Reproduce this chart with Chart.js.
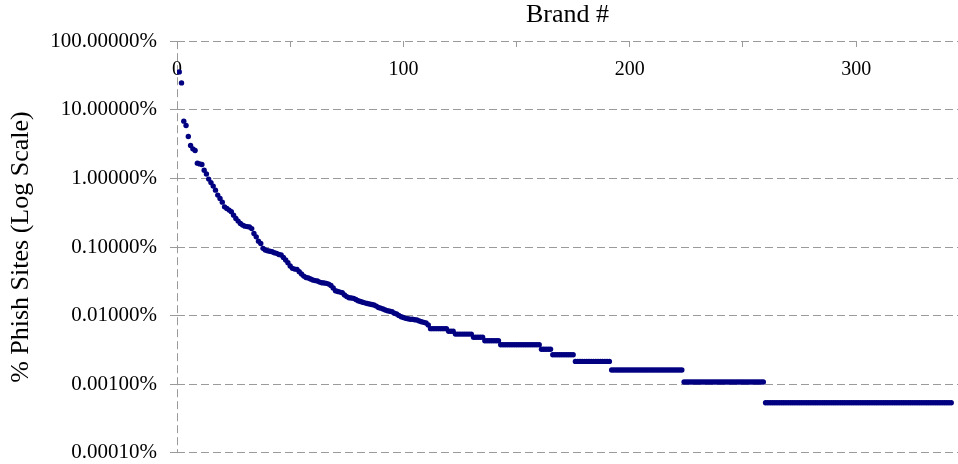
<!DOCTYPE html>
<html>
<head>
<meta charset="utf-8">
<script src="https://cdn.jsdelivr.net/npm/chart.js@4.4.1/dist/chart.umd.min.js"></script>
<style>
  body { margin: 0; background: #fff; }
  #wrap { width: 958px; height: 464px; }
</style>
</head>
<body>
<div id="wrap"><canvas id="myChart"></canvas></div>
<script>
// y ticks (percent) and labelled brand ticks
const yTicks = [0.0001, 0.001, 0.01, 0.1, 1, 10, 100];
const xLabelTicks = [0, 100, 200, 300];

// % of phish sites per brand, brands 1..111
const headPct = [
  35.7, 24.7, 6.84, 5.92, 4.09, 3.03, 2.70, 2.56, 1.67, 1.63,
  1.60, 1.32, 1.16, 0.978, 0.870, 0.774, 0.676, 0.572, 0.512, 0.452,
  0.386, 0.366, 0.346, 0.327, 0.292, 0.262, 0.239, 0.221, 0.209, 0.202,
  0.199, 0.196, 0.186, 0.158, 0.141, 0.122, 0.113, 0.0958, 0.0905, 0.0884,
  0.0869, 0.0855, 0.0826, 0.0810, 0.0778, 0.0765, 0.0708, 0.0647, 0.0591, 0.0529,
  0.0490, 0.0478, 0.0474, 0.0437, 0.0405, 0.0378, 0.0360, 0.0354, 0.0342, 0.0331,
  0.0325, 0.0320, 0.0309, 0.0302, 0.0299, 0.0296, 0.0289, 0.0275, 0.0253, 0.0231,
  0.0225, 0.0221, 0.0216, 0.0200, 0.0190, 0.0183, 0.0181, 0.0179, 0.0172, 0.0165,
  0.0161, 0.0157, 0.0154, 0.0151, 0.0148, 0.0146, 0.0143, 0.0138, 0.0132, 0.0129,
  0.0125, 0.0121, 0.0118, 0.0116, 0.0114, 0.0109, 0.0106, 0.0101, 0.00966, 0.00941,
  0.00916, 0.00901, 0.00889, 0.00886, 0.00874, 0.00865, 0.00837, 0.00818, 0.00801, 0.00782,
  0.00732
];

// brands 112..342, the step part (12 sites down to 1 site)
const tailPct = [
  0.00648, 0.00648, 0.00648, 0.00648, 0.00648, 0.00648, 0.00648, 0.00648,
  0.00594, 0.00594, 0.00594,
  0.0054, 0.0054, 0.0054, 0.0054, 0.0054, 0.0054, 0.0054, 0.0054,
  0.00486, 0.00486, 0.00486, 0.00486, 0.00486,
  0.00432, 0.00432, 0.00432, 0.00432, 0.00432, 0.00432, 0.00432,
  0.00378, 0.00378, 0.00378, 0.00378, 0.00378, 0.00378, 0.00378, 0.00378, 0.00378, 0.00378,
  0.00378, 0.00378, 0.00378, 0.00378, 0.00378, 0.00378, 0.00378, 0.00378,
  0.00324, 0.00324, 0.00324, 0.00324, 0.00324,
  0.0027, 0.0027, 0.0027, 0.0027, 0.0027, 0.0027, 0.0027, 0.0027, 0.0027, 0.0027,
  0.00216, 0.00216, 0.00216, 0.00216, 0.00216, 0.00216, 0.00216, 0.00216, 0.00216, 0.00216,
  0.00216, 0.00216, 0.00216, 0.00216, 0.00216, 0.00216,
  0.00162, 0.00162, 0.00162, 0.00162, 0.00162, 0.00162, 0.00162, 0.00162, 0.00162, 0.00162,
  0.00162, 0.00162, 0.00162, 0.00162, 0.00162, 0.00162, 0.00162, 0.00162, 0.00162, 0.00162,
  0.00162, 0.00162, 0.00162, 0.00162, 0.00162, 0.00162, 0.00162, 0.00162, 0.00162, 0.00162,
  0.00162, 0.00162,
  0.00108, 0.00108, 0.00108, 0.00108, 0.00108, 0.00108, 0.00108, 0.00108, 0.00108, 0.00108,
  0.00108, 0.00108, 0.00108, 0.00108, 0.00108, 0.00108, 0.00108, 0.00108, 0.00108, 0.00108,
  0.00108, 0.00108, 0.00108, 0.00108, 0.00108, 0.00108, 0.00108, 0.00108, 0.00108, 0.00108,
  0.00108, 0.00108, 0.00108, 0.00108, 0.00108, 0.00108,
  0.00054, 0.00054, 0.00054, 0.00054, 0.00054, 0.00054, 0.00054, 0.00054, 0.00054, 0.00054,
  0.00054, 0.00054, 0.00054, 0.00054, 0.00054, 0.00054, 0.00054, 0.00054, 0.00054, 0.00054,
  0.00054, 0.00054, 0.00054, 0.00054, 0.00054, 0.00054, 0.00054, 0.00054, 0.00054, 0.00054,
  0.00054, 0.00054, 0.00054, 0.00054, 0.00054, 0.00054, 0.00054, 0.00054, 0.00054, 0.00054,
  0.00054, 0.00054, 0.00054, 0.00054, 0.00054, 0.00054, 0.00054, 0.00054, 0.00054, 0.00054,
  0.00054, 0.00054, 0.00054, 0.00054, 0.00054, 0.00054, 0.00054, 0.00054, 0.00054, 0.00054,
  0.00054, 0.00054, 0.00054, 0.00054, 0.00054, 0.00054, 0.00054, 0.00054, 0.00054, 0.00054,
  0.00054, 0.00054, 0.00054, 0.00054, 0.00054, 0.00054, 0.00054, 0.00054, 0.00054, 0.00054,
  0.00054, 0.00054, 0.00054
];

const pctSites = headPct.concat(tailPct);
const points = pctSites.map((v, k) => ({ x: k + 1, y: v }));

const gridGray = '#9a9a9a';
Chart.defaults.font.family = "'Liberation Serif', serif";
Chart.defaults.color = '#000';

let ctx = document.querySelector('#myChart').getContext('2d');
myChart = new Chart(ctx, {
    type: 'scatter',
    data: {
        datasets: [{
            label: '% Phish Sites',
            data: points,
            backgroundColor: '#000080',
            borderColor: '#000080',
            borderWidth: 0,
            pointRadius: 2.7,
            pointHoverRadius: 2.7
        }]
    },
    options: {
        responsive: true,
        maintainAspectRatio: false,
        animation: false,
        layout: { padding: 0, autoPadding: false },
        plugins: {
            legend: { display: false },
            tooltip: { enabled: false },
            // "Brand #" sits over the plot area like the axis title
            title: {
                display: true,
                text: 'Brand #',
                fullSize: false,
                font: { size: 26, weight: 'normal' },
                padding: { top: 0, bottom: 10 }
            }
        },
        scales: {
            x: {
                type: 'linear',
                // axis glued to the top edge (100%), labels hang below it
                position: { y: 100 },
                min: 0,
                max: 345,
                ticks: {
                    stepSize: 50,
                    includeBounds: false,
                    autoSkip: false,
                    maxRotation: 0,
                    padding: 11,
                    font: { size: 20 },
                    callback: (v) => xLabelTicks.includes(v) ? v : ''
                },
                grid: {
                    // only the x=0 line is drawn, the rest are tick marks
                    color: (c) => (c.tick && c.tick.value === 0) ? gridGray : 'rgba(0,0,0,0)',
                    tickLength: 6,
                    tickColor: gridGray,
                    tickBorderDash: []
                },
                border: { display: false, dash: [8, 4] }
            },
            y: {
                type: 'logarithmic',
                min: 0.0001,
                max: 100,
                afterBuildTicks: (scale) => { scale.ticks = yTicks.map(v => ({ value: v })); },
                afterFit: (scale) => { scale.width = 177; },
                ticks: {
                    padding: 0,
                    font: { size: 21, lineHeight: 1.05 },
                    callback: (v) => Number(v).toFixed(5) + '%'
                },
                grid: {
                    color: gridGray,
                    // 20px reserved before the labels, only the last 7px are drawn as tick
                    tickLength: 20,
                    tickColor: gridGray,
                    tickBorderDash: [0, 13, 7, 0]
                },
                border: { display: false, dash: [8, 4] },
                title: {
                    display: true,
                    text: '% Phish Sites (Log Scale)',
                    font: { size: 26 },
                    padding: { top: 6, bottom: 0 }
                }
            }
        }
    }
});
</script>
</body>
</html>
